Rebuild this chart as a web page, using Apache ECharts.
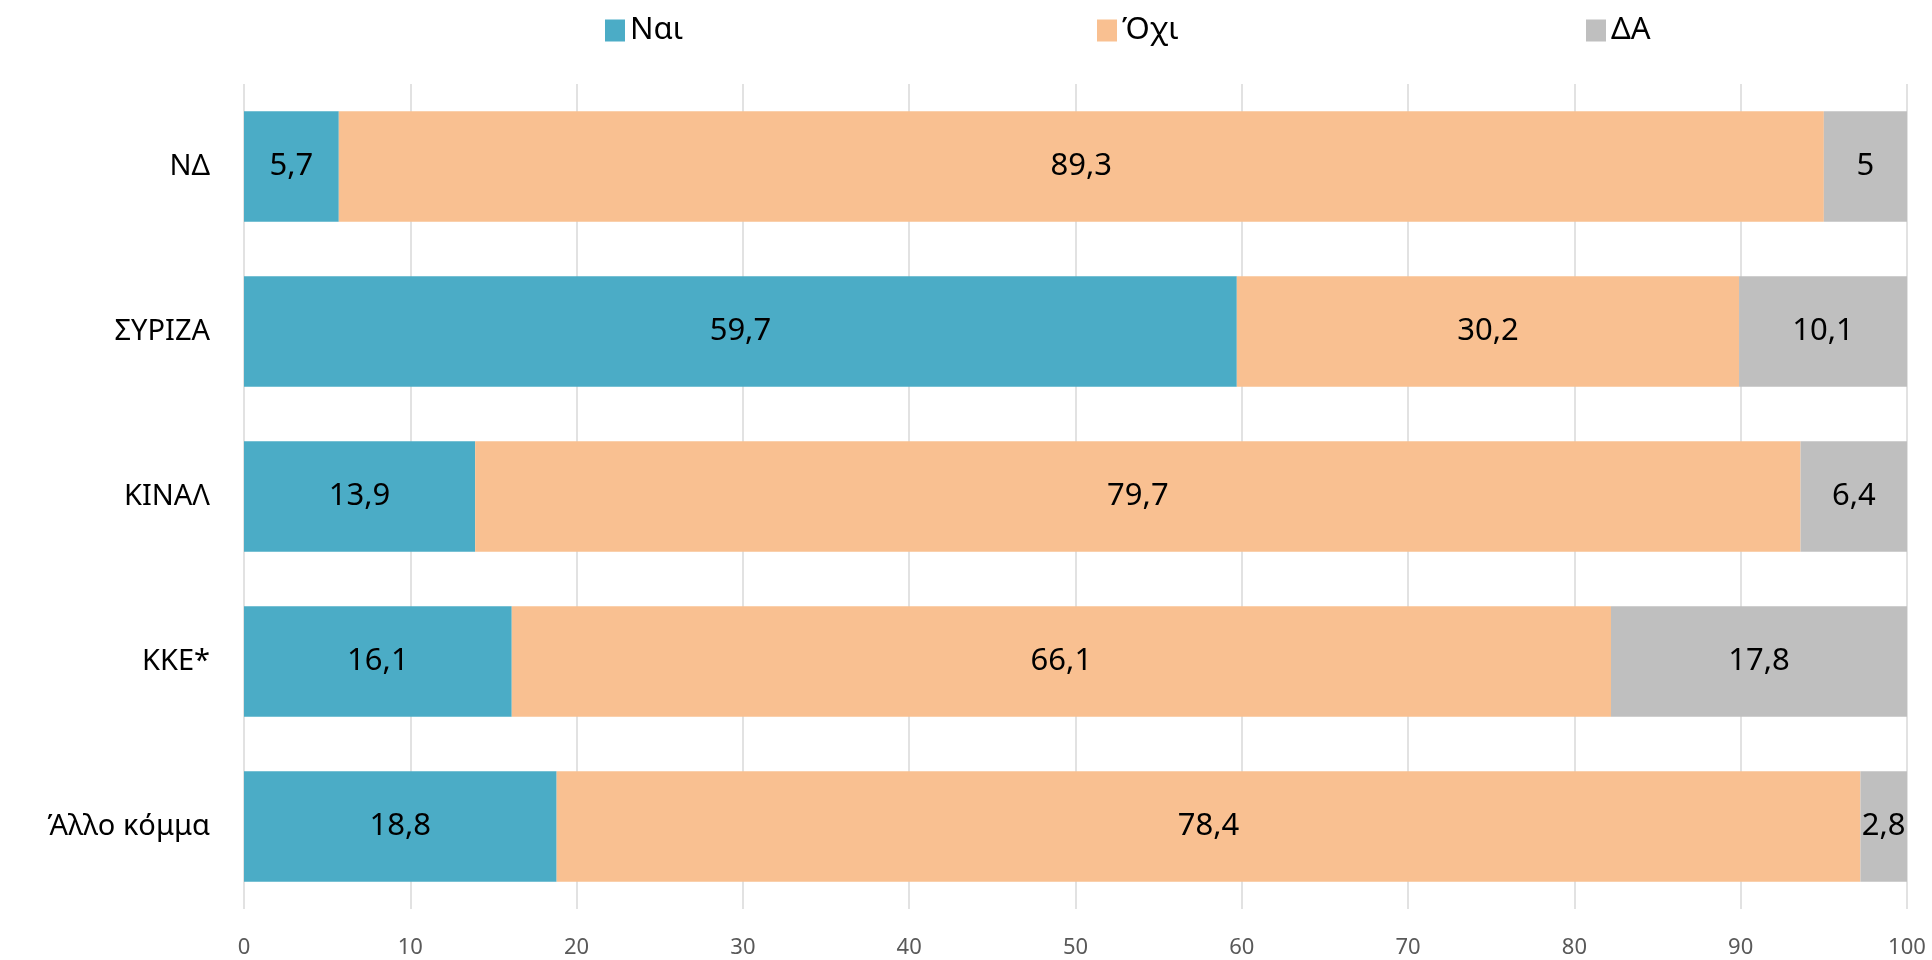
<!DOCTYPE html>
<html>
<head>
<meta charset="utf-8">
<script src="https://cdn.jsdelivr.net/npm/echarts@6/dist/echarts.min.js"></script>
<style>html,body{margin:0;padding:0;background:#fff;}#c{width:1932px;height:960px;}</style>
</head>
<body>
<div id="c"></div>
<script>
const categories = ['ΝΔ', 'ΣΥΡΙΖΑ', 'ΚΙΝΑΛ', 'ΚΚΕ*', 'Άλλο κόμμα'];
const seriesNames = ['Ναι', 'Όχι', 'ΔΑ'];
const yesValues = [5.7, 59.7, 13.9, 16.1, 18.8];
const noValues = [89.3, 30.2, 79.7, 66.1, 78.4];
const dkValues = [5, 10.1, 6.4, 17.8, 2.8];
const xTicks = [0, 10, 20, 30, 40, 50, 60, 70, 80, 90, 100];

const colors = ['#4BACC6', '#F9C091', '#BFBFBF'];
const font = '"Noto Sans", "Open Sans", sans-serif';
const chart = echarts.init(document.getElementById('c'));
const fmt = p => String(p.value).replace('.', ',');
function mk(name, data, color) {
  return {
    name, type: 'bar', stack: 'total', data, barWidth: '67%',
    itemStyle: { color },
    label: { show: true, position: 'inside', formatter: fmt, color: '#000', fontSize: 31, fontFamily: font },
    emphasis: { disabled: true }
  };
}
const legendBase = {
  top: 10, itemWidth: 20, itemHeight: 22, icon: 'rect',
  textStyle: { fontSize: 31, fontFamily: font, color: '#000' }, itemGap: 8
};
chart.setOption({
  animation: false,
  color: colors,
  legend: [
    Object.assign({}, legendBase, { data: [seriesNames[0]], left: 600 }),
    Object.assign({}, legendBase, { data: [seriesNames[1]], left: 1092 }),
    Object.assign({}, legendBase, { data: [seriesNames[2]], left: 1581 })
  ],
  grid: { left: 244, right: 25, top: 84, bottom: 51, containLabel: false },
  xAxis: {
    type: 'value', min: 0, max: 100, interval: 10,
    axisLine: { show: false }, axisTick: { show: false },
    splitLine: { show: true, lineStyle: { color: '#D9D9D9', width: 1.5 } },
    axisLabel: { color: '#595959', fontSize: 22, fontFamily: font, margin: 28,
      formatter: v => xTicks.includes(v) ? String(v) : '' }
  },
  yAxis: {
    type: 'category', data: categories, inverse: true,
    axisLine: { show: false }, axisTick: { show: false },
    axisLabel: { color: '#000', fontSize: 29, fontFamily: font, margin: 34 }
  },
  series: [
    mk(seriesNames[0], yesValues, colors[0]),
    mk(seriesNames[1], noValues, colors[1]),
    mk(seriesNames[2], dkValues, colors[2])
  ]
});
</script>
</body>
</html>
